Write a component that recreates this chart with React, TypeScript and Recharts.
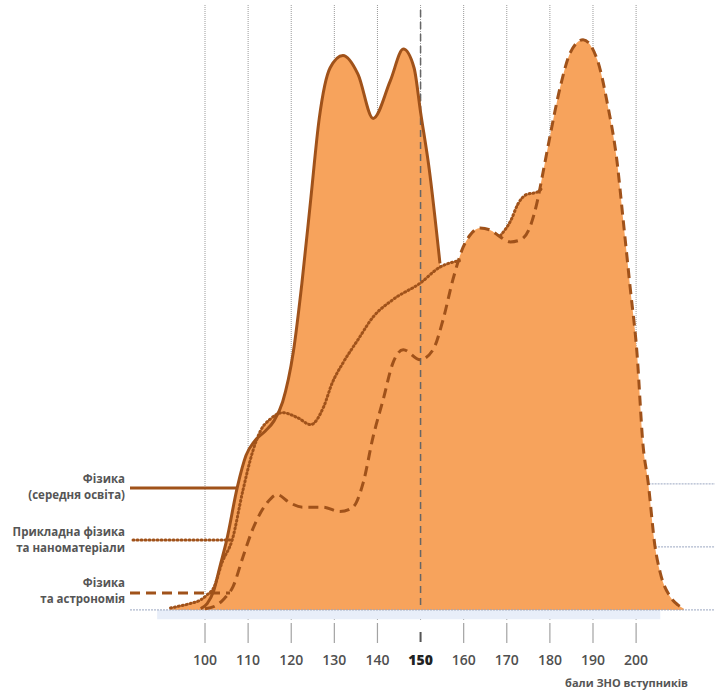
import React from 'react';
import {
    ComposedChart,
    Area,
    Line,
    XAxis,
    YAxis,
    CartesianGrid,
    ReferenceLine,
    ReferenceArea
} from 'recharts';

// бали ЗНО на осі
const scoreTicks = [100, 110, 120, 130, 140, 150, 160, 170, 180, 190, 200];

// Фізика (середня освіта) — суцільна
const schoolScores = [99, 100.5, 102, 103.5, 105, 107.5, 109.5, 111.5, 114, 116, 118, 120.5, 122.5, 124.5, 126.5, 129, 132, 135.5, 139, 143, 146, 148.5, 150, 152, 154.5];
const schoolShare = [0.2, 1, 3, 7, 11, 19.5, 24.5, 26.8, 28.4, 30, 33, 41, 52, 65, 78, 86, 88, 85, 78, 84, 89, 86, 79, 70, 55];

// Прикладна фізика та наноматеріали — пунктир
const appliedScores = [92, 94, 96.5, 99, 100.5, 102, 104, 106.3, 108.8, 111, 113, 115, 118, 121.5, 124.5, 127.5, 129.5, 132, 135.5, 139, 143.5, 150, 154.5, 157.5, 159, 164, 168.5, 171, 172.5, 174.5, 177, 178];
const appliedShare = [0.3, 0.6, 1, 1.6, 2.4, 3.5, 7.6, 11.1, 19, 25, 28.6, 30.2, 31.3, 30.5, 29.4, 32.2, 36, 39.2, 42.9, 46.5, 49.2, 51.9, 54.4, 55.2, 55.4, null, 59.4, 61.9, 64.3, 65.9, 66.3, 66.8];

// Фізика та астрономія — штрих
const astroScores = [100, 102.3, 104.6, 106.5, 108.8, 111, 114.4, 116.7, 119.7, 122.7, 127.4, 131.3, 134.3, 136.7, 139, 141.3, 143.6, 146, 149.9, 152.9, 155.2, 157.5, 159.9, 161.5, 163.8, 166.1, 168.5, 170.8, 173.1, 175.4, 177, 178.4, 180, 182.4, 184.7, 187.7, 191, 193.3, 195.6, 197, 198.6, 200.2, 201.6, 202.8, 204.4, 205.6, 207.9, 209.7, 211.1];
const astroShare = [0.2, 0.6, 1.9, 3.7, 8.4, 12.7, 17, 18.3, 17, 16.3, 16.3, 15.6, 16.3, 20.2, 27.5, 33.3, 39.2, 41.3, 39.7, 41.3, 46, 52.4, 57.6, 59.5, 60.6, 60.3, 59.2, 58.4, 58.7, 60.8, 64.6, 69.4, 75.1, 83, 88.4, 90.5, 87.3, 80.5, 71, 61.9, 51.3, 40.8, 26.2, 20.2, 10, 5.9, 2.1, 0.8, 0.2];

const toPoints = (xs: number[], ys: (number | null)[]) => xs.map((x, i) => ({ x, y: ys[i] }));

const schoolData = toPoints(schoolScores, schoolShare);
const appliedData = toPoints(appliedScores, appliedShare);
const astroData = toPoints(astroScores, astroShare);

const FILL = '#f7a35c';
const LINE = '#a0521a';
const FONT = '"Open Sans", "DejaVu Sans", sans-serif';

const ScoreTick = (props: any) => {
    const { x, y, payload } = props;
    const main = payload.value === 150;
    return (
        <g>
            <rect
                x={main ? x - 1 : x - 0.6}
                y={main ? y + 12 : y + 3}
                width={main ? 2 : 1.2}
                height={main ? 10 : 20}
                fill={main ? '#555' : '#a3a3a3'}
            />
            <text
                x={x}
                y={y + 45}
                textAnchor="middle"
                fontFamily={FONT}
                fontSize={14}
                fontWeight={main ? 800 : 600}
                fill={main ? '#222' : '#505050'}
            >
                {payload.value}
            </text>
        </g>
    );
};

const legendStyle: React.CSSProperties = {
    position: 'absolute',
    right: 590,
    textAlign: 'right',
    fontFamily: FONT,
    fontSize: 11.5,
    fontWeight: 700,
    lineHeight: '15px',
    color: '#555',
    whiteSpace: 'nowrap'
};

const legendRows = [
    { text: 'Фізика', top: 471 },
    { text: '(середня освіта)', top: 487 },
    { text: 'Прикладна фізика', top: 524 },
    { text: 'та наноматеріали', top: 540 },
    { text: 'Фізика', top: 575 },
    { text: 'та астрономія', top: 591 }
];

export default function App() {
    return (
        <div style={{ position: 'absolute', left: 0, top: 0, width: 715, height: 694, background: '#fff' }}>
            <ComposedChart width={715} height={694} margin={{ top: 5, right: 0, left: 130, bottom: 0 }}>
                <CartesianGrid vertical horizontal={false} verticalValues={scoreTicks} stroke="#9a9a9a" strokeDasharray="1 1" />
                <XAxis
                    dataKey="x"
                    type="number"
                    domain={[82.6, 218.3]}
                    allowDataOverflow
                    ticks={scoreTicks}
                    interval={0}
                    height={74}
                    axisLine={false}
                    tickLine={false}
                    tickSize={0}
                    tickMargin={0}
                    tick={<ScoreTick />}
                />
                <YAxis hide type="number" domain={[-1.6, 96]} allowDataOverflow />
                <ReferenceArea x1={88.9} x2={205.6} y1={-1.5} y2={0} fill="#e8eef9" fillOpacity={1} stroke="none" />
                <ReferenceLine y={0} stroke="#9aa6c0" strokeDasharray="2 1" />
                <ReferenceLine segment={[{ x: 202.9, y: 20 }, { x: 218.3, y: 20 }]} stroke="#9aa6c0" strokeDasharray="2 1" />
                <ReferenceLine segment={[{ x: 204.4, y: 10 }, { x: 218.3, y: 10 }]} stroke="#9aa6c0" strokeDasharray="2 1" />

                <Area data={schoolData} dataKey="y" type="monotone" baseValue={0} fill={FILL} fillOpacity={1} stroke="none" isAnimationActive={false} />
                <Area data={appliedData} dataKey="y" type="monotone" baseValue={0} fill={FILL} fillOpacity={1} stroke="none" isAnimationActive={false} />
                <Area data={astroData} dataKey="y" type="monotone" baseValue={0} fill={FILL} fillOpacity={1} stroke="none" isAnimationActive={false} />

                <ReferenceLine segment={[{ x: 150, y: 0.8 }, { x: 150, y: 96 }]} stroke="#666" strokeWidth={1.5} strokeDasharray="7 5" />

                <ReferenceLine segment={[{ x: 82.6, y: 19.35 }, { x: 107.6, y: 19.35 }]} stroke={LINE} strokeWidth={3} />
                <ReferenceLine segment={[{ x: 83.3, y: 11.1 }, { x: 106.3, y: 11.1 }]} stroke={LINE} strokeWidth={3} strokeDasharray="1 3" strokeLinecap="round" />
                <ReferenceLine segment={[{ x: 82.6, y: 2.7 }, { x: 105.8, y: 2.7 }]} stroke={LINE} strokeWidth={3} strokeDasharray="10 6" />

                <Line data={schoolData} dataKey="y" name="Фізика (середня освіта)" type="monotone" stroke={LINE} strokeWidth={3} dot={false} activeDot={false} isAnimationActive={false} />
                <Line data={appliedData} dataKey="y" name="Прикладна фізика та наноматеріали" type="monotone" stroke={LINE} strokeWidth={3} strokeDasharray="1 3" strokeLinecap="round" dot={false} activeDot={false} isAnimationActive={false} />
                <Line data={astroData} dataKey="y" name="Фізика та астрономія" type="monotone" stroke={LINE} strokeWidth={3} strokeDasharray="10 6" dot={false} activeDot={false} isAnimationActive={false} />
            </ComposedChart>

            {legendRows.map((row, i) => (
                <div key={i} style={{ ...legendStyle, top: row.top }}>{row.text}</div>
            ))}

            <div
                style={{
                    position: 'absolute',
                    right: 715 - 688,
                    top: 675,
                    fontFamily: FONT,
                    fontSize: 11,
                    fontWeight: 700,
                    color: '#555',
                    whiteSpace: 'nowrap'
                }}
            >
                бали ЗНО вступників
            </div>
        </div>
    );
}
